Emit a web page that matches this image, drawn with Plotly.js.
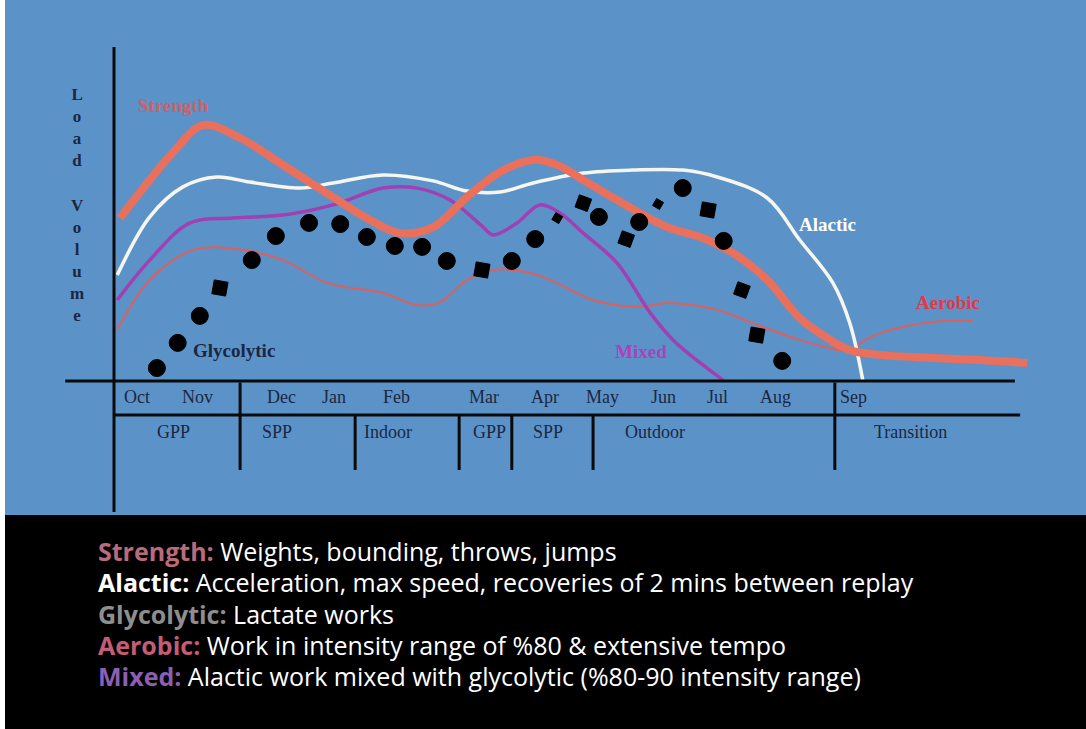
<!DOCTYPE html>
<html>
<head>
<meta charset="utf-8">
<script src="https://cdn.plot.ly/plotly-3.0.1.min.js"></script>
<style>html,body{margin:0;padding:0;background:#fff;}#chart{width:1086px;height:729px;}</style>
</head>
<body>
<div id="chart"></div>
<script>
// x: months since start of October, y: relative load volume
const months = ['Oct','Nov','Dec','Jan','Feb','Mar','Apr','May','Jun','Jul','Aug','Sep'];
const monthPos = [0.35,1.28,2.57,3.38,4.35,5.69,6.63,7.51,8.46,9.29,10.17,11.37];
const phases = ['GPP','SPP','Indoor','GPP','SPP','Outdoor','Transition'];
const phasePos = [0.92,2.51,4.22,5.77,6.68,8.32,12.25];
const phaseBounds = [1.94,3.71,5.31,6.12,7.37,11.09];

const strengthX = [0.09,0.55,0.94,1.37,1.94,2.6,3.37,3.94,4.4,4.91,5.43,5.94,6.45,6.82,7.22,7.74,8.51,9.02,9.52,10.05,10.55,11.02,11.32,11.78,12.6,13.32,14.05];
const strengthY = [54.3,67,77,85.3,81,72,61.3,53.7,49.3,51.3,61.3,69.7,73.7,72,67,60.3,51.3,48,42.7,33.7,21,13.7,10.3,8.7,7.7,7,6];

const alacticX = [0.05,0.55,1.06,1.58,2.09,2.86,3.37,4.14,4.91,5.43,5.94,6.45,7.22,7.98,8.75,9.28,10.05,10.55,11.06,11.32,11.52];
const alacticY = [35.3,54.7,64.7,68,66.3,64.3,66,68.7,66.7,63.3,63,66,69.3,70.3,70.3,68,61,47,32.7,19.3,0.3];

const mixedX = [0.05,0.55,1.17,1.83,2.6,3.37,4.14,4.66,5.17,5.68,5.83,6.2,6.55,6.86,7.22,7.74,8.25,8.6,9.02,9.37];
const mixedY = [27,40.3,52.7,54.3,55.3,58.7,64.3,64.3,60.3,51.3,48.7,52.7,58.7,56,49.3,39.3,22.7,13.7,6,0.3];

const aerobicX = [0.05,0.55,1.22,1.98,2.6,3.28,4.14,4.66,5.02,5.43,5.83,6.35,6.71,7.37,8.09,8.51,9.28,9.78,10.55,11.32,11.48,11.83,12.6,13.22];
const aerobicY = [17,33.7,43.7,43.7,40.3,32.7,29.3,25.3,26.3,33.7,37,36.3,33.7,27,24.7,26,23.7,19.7,13.7,10.3,12.7,16.3,19.7,20];

const glycoX = [0.66,0.98,1.32,1.63,2.12,2.49,3.0,3.48,3.89,4.32,4.74,5.12,5.66,6.12,6.48,6.82,7.22,7.46,7.88,8.08,8.37,8.75,9.14,9.38,9.66,9.89,10.28];
const glycoY = [4.3,12.7,21.7,31,40.3,48.3,52.7,52.3,48,45,44.7,40,37,40,47.3,54.3,59.3,54.7,47.3,53,59,64.3,57,46.7,30.3,15.3,6.7];
const glycoKind = ['o','o','o','s','o','o','o','o','o','o','o','o','s','o','o','d','r','o','r','o','d','o','s','o','r','s','o'];

const legendLines = [
  ['Strength:', 'Weights, bounding, throws, jumps'],
  ['Alactic:', 'Acceleration, max speed, recoveries of 2 mins between replay'],
  ['Glycolytic:', 'Lactate works'],
  ['Aerobic:', 'Work in intensity range of %80 & extensive tempo'],
  ['Mixed:', 'Alactic work mixed with glycolytic (%80-90 intensity range)']
];
const legendColors = ['#b96b7c','#ffffff','#8e8e8e','#c35d76','#8b5fb3'];

const symbolMap = {o:'circle', s:'square', r:'square', d:'square'};
const sizeMap = {o:17, s:14, r:13, d:8};
const angleMap = {o:0, s:10, r:20, d:30};

const traces = [
  {x: aerobicX, y: aerobicY, mode:'lines', line:{color:'#de5f5c', width:2, shape:'spline', smoothing:1}},
  {x: mixedX, y: mixedY, mode:'lines', line:{color:'#a23fb2', width:3.5, shape:'spline', smoothing:1}},
  {x: alacticX, y: alacticY, mode:'lines', line:{color:'#f6f6ee', width:3.5, shape:'spline', smoothing:1}},
  {x: strengthX, y: strengthY, mode:'lines', line:{color:'#e8705c', width:8, shape:'spline', smoothing:1}},
  {x: glycoX, y: glycoY, mode:'markers', opacity:1, marker:{
      color:'#000000', opacity:1, symbol: glycoKind.map(k=>symbolMap[k]), size: glycoKind.map(k=>sizeMap[k]),
      angle: glycoKind.map(k=>angleMap[k]), line:{width:1, color:'#000000'}}}
];

const lineCol = '#0a0a0a';
const shapes = [
  {type:'line', xref:'x', yref:'y', x0:0, x1:0, y0:-43.7, y1:111.3, line:{color:lineCol, width:3}},
  {type:'line', xref:'x', yref:'y', x0:-0.75, x1:13.86, y0:0, y1:0, line:{color:lineCol, width:3}},
  {type:'line', xref:'x', yref:'y', x0:0, x1:13.94, y0:-11.33, y1:-11.33, line:{color:lineCol, width:3}},
  {type:'rect', xref:'paper', yref:'paper', x0:-0.01, x1:0, y0:-0.5, y1:1.01, fillcolor:'#ffffff', line:{width:0}}
];
phaseBounds.forEach((b,i)=>{
  const full = (i===0 || i===phaseBounds.length-1);
  shapes.push({type:'line', xref:'x', yref:'y', x0:b, x1:b, y0: full ? -0.5 : -11.33, y1:-29.67, line:{color:lineCol, width:3}});
});

const serif = 'Liberation Serif, Times New Roman, serif';
const navy = '#1b2741';
const annotations = [];
months.forEach((m,i)=>annotations.push({x:monthPos[i], y:-5.4, xref:'x', yref:'y', text:m, showarrow:false,
  font:{family:serif, size:18, color:navy}}));
phases.forEach((p,i)=>annotations.push({x:phasePos[i], y:-17, xref:'x', yref:'y', text:p, showarrow:false,
  font:{family:serif, size:18, color:navy}}));
annotations.push({x:-0.57, y:58.7, xref:'x', yref:'y', showarrow:false,
  text:'<b>L<br>o<br>a<br>d<br> <br>V<br>o<br>l<br>u<br>m<br>e</b>', font:{family:serif, size:17, color:navy}});
const seriesLabels = [
  {t:'Strength', x:0.91, y:91.7, c:'#cf6066'},
  {t:'Alactic', x:10.97, y:52.3, c:'#ffffff'},
  {t:'Aerobic', x:12.83, y:26, c:'#e2384c'},
  {t:'Mixed', x:8.11, y:9.7, c:'#b03fba'},
  {t:'Glycolytic', x:1.85, y:10, c:navy}
];
seriesLabels.forEach(s=>annotations.push({x:s.x, y:s.y, xref:'x', yref:'y', showarrow:false,
  text:'<b>'+s.t+'</b>', font:{family:serif, size:19, color:s.c}}));
const legendY = [551, 582, 614, 645, 676];
legendLines.forEach((l,i)=>annotations.push({
  xref:'paper', yref:'paper', x:(96-5)/1081, y:(515-legendY[i])/515, xanchor:'left', yanchor:'middle', showarrow:false,
  text:'<b><span style="color:'+legendColors[i]+'">'+l[0]+'</span></b> '+l[1],
  font:{family:'Open Sans, Roboto, sans-serif', size:25, color:'#ffffff'}
}));

const layout = {
  width:1086, height:729,
  margin:{l:5, r:0, t:0, b:214, pad:0},
  paper_bgcolor:'#000000',
  plot_bgcolor:'#5b93c8',
  showlegend:false,
  xaxis:{range:[-1.677,14.954], showgrid:false, zeroline:false, showticklabels:false, ticks:'', showline:false, fixedrange:true},
  yaxis:{range:[-44.67,127], showgrid:false, zeroline:false, showticklabels:false, ticks:'', showline:false, fixedrange:true},
  shapes: shapes,
  annotations: annotations
};
Plotly.newPlot('chart', traces, layout, {displayModeBar:false, staticPlot:true});
</script>
</body>
</html>
